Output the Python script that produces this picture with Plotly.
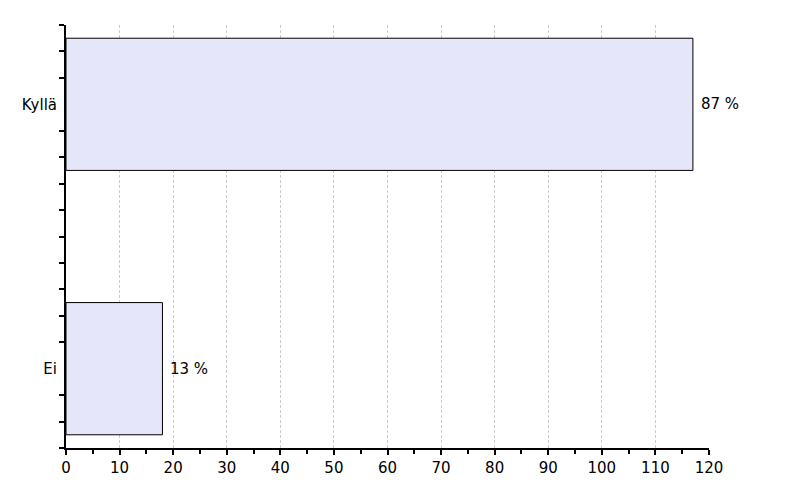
import plotly.graph_objects as go

categories = ["Ei", "Kyllä"]
counts = [18, 117]
percent_labels = ["13 %", "87 %"]
x_tick_vals = list(range(0, 121, 10))

# category slots on a numeric axis (one slot = 10 units)
slot = 10
offset = 3
ypos = [offset + slot * i for i in range(len(categories))]
y_top = 16
y_minor = [v for v in range(0, y_top + 1) if v not in ypos]

FONT = "DejaVu Sans, Verdana, sans-serif"
FS = 15

fig = go.Figure()
fig.add_trace(go.Bar(
    x=counts, y=ypos, orientation="h", width=5,
    marker=dict(color="#E6E6FA", line=dict(color="black", width=1)),
    hoverinfo="skip",
))

for xv, yv, t in zip(counts, ypos, percent_labels):
    fig.add_annotation(x=xv, y=yv, text=t, showarrow=False,
                       xanchor="left", yanchor="middle", xshift=6,
                       font=dict(family=FONT, size=FS, color="black"))

fig.update_layout(
    width=800, height=500,
    margin=dict(l=58, r=99, t=17, b=60, autoexpand=False),
    plot_bgcolor="white", paper_bgcolor="white",
    showlegend=False,
    font=dict(family=FONT, size=FS, color="black"),
    xaxis=dict(
        range=[0, 120], tickvals=x_tick_vals, ticks="outside", ticklen=5, tickwidth=2,
        tickcolor="black", showline=True, linecolor="black", linewidth=2,
        showgrid=True, gridcolor="#cccccc", griddash="3px,2px", gridwidth=1,
        zeroline=False, automargin=False,
        minor=dict(dtick=5, ticks="outside", ticklen=4, tickwidth=2, tickcolor="black", showgrid=False),
        tickfont=dict(family=FONT, size=FS),
    ),
    yaxis=dict(
        range=[0, y_top], tickvals=ypos, ticktext=categories, ticks="outside", ticklen=0,
        showline=True, linecolor="black", linewidth=2, showgrid=False, zeroline=False,
        automargin=False,
        minor=dict(tickmode="array", tickvals=y_minor, ticks="outside", ticklen=5, tickwidth=2,
                   tickcolor="black", showgrid=False),
        tickfont=dict(family=FONT, size=FS),
        ticklabelstandoff=4,
    ),
)

fig.write_html("out.html")
